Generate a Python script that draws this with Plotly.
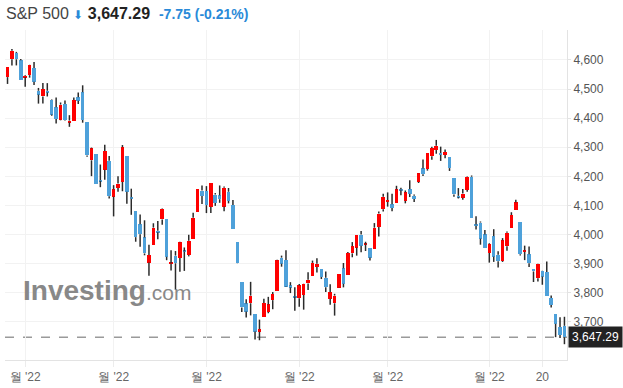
import plotly.graph_objects as go

dates = ["03-28","03-29","03-30","03-31",
"04-01","04-04","04-05","04-06","04-07","04-08","04-11","04-12","04-13","04-14","04-18","04-19","04-20","04-21","04-22","04-25","04-26","04-27","04-28","04-29",
"05-02","05-03","05-04","05-05","05-06","05-09","05-10","05-11","05-12","05-13","05-16","05-17","05-18","05-19","05-20","05-23","05-24","05-25","05-26","05-27","05-31",
"06-01","06-02","06-03","06-06","06-07","06-08","06-09","06-10","06-13","06-14","06-15","06-16","06-17","06-21","06-22","06-23","06-24","06-27","06-28","06-29","06-30",
"07-01","07-05","07-06","07-07","07-08","07-11","07-12","07-13","07-14","07-15","07-18","07-19","07-20","07-21","07-22","07-25","07-26","07-27","07-28","07-29",
"08-01","08-02","08-03","08-04","08-05","08-08","08-09","08-10","08-11","08-12","08-15","08-16","08-17","08-18","08-19","08-22","08-23","08-24","08-25","08-26","08-29","08-30","08-31",
"09-01","09-02","09-06","09-07","09-08","09-09","09-12","09-13","09-14","09-15","09-16","09-19","09-20","09-21","09-22","09-23","09-26","09-27"]

opens = [4541.09,4602.86,4624.20,4599.02,
4540.32,4547.97,4572.45,4494.17,4474.65,4494.15,4462.64,4437.59,4394.30,4449.12,4385.63,4390.63,4472.26,4489.17,4385.83,4255.34,4278.14,4186.52,4222.58,4253.75,
4130.61,4159.78,4181.18,4270.43,4128.17,4081.27,4035.18,3990.08,3903.95,3963.90,4013.02,4052.00,4051.98,3899.00,3927.76,3919.42,3942.94,3929.59,3984.60,4077.43,4151.09,
4149.78,4095.41,4137.57,4134.72,4096.47,4147.12,4101.65,3974.39,3838.15,3763.52,3764.05,3728.18,3665.90,3715.31,3733.89,3774.71,3805.35,3920.76,3913.00,3825.09,3785.99,
3781.00,3792.61,3831.98,3858.85,3888.26,3880.94,3851.95,3779.67,3763.99,3818.00,3883.79,3860.73,3935.32,3955.47,4000.16,3965.72,3953.22,3951.43,4026.13,4087.33,
4112.38,4104.21,4107.96,4154.85,4115.87,4155.93,4133.11,4181.02,4227.40,4225.02,4269.37,4290.46,4280.40,4273.13,4266.31,4195.08,4133.09,4126.55,4153.26,4198.74,4034.58,4041.25,4000.67,
3936.73,3994.66,3930.89,3909.43,3959.94,4022.94,4083.67,4042.69,3940.73,3932.41,3880.95,3849.91,3875.23,3871.40,3782.36,3727.14,3682.72,3686.44]

highs = [4575.65,4637.30,4627.77,4603.07,
4548.70,4583.50,4593.45,4503.94,4521.16,4520.41,4464.35,4471.00,4453.92,4460.46,4410.31,4471.03,4488.29,4512.94,4385.83,4299.02,4278.14,4240.71,4308.45,4269.68,
4169.81,4200.10,4307.66,4270.43,4157.69,4081.27,4068.82,4049.09,3964.80,4038.88,4046.46,4090.72,4051.98,3945.96,3943.42,3975.30,3955.68,3999.33,4075.14,4158.49,4168.34,
4166.54,4177.51,4142.67,4168.78,4164.86,4160.14,4119.10,3974.39,3838.15,3778.18,3837.56,3728.18,3707.71,3779.65,3785.99,3802.58,3913.65,3927.72,3945.86,3836.50,3818.99,
3829.82,3832.19,3870.91,3910.63,3918.50,3880.94,3873.41,3829.44,3796.41,3863.62,3902.44,3939.81,3974.13,3999.29,4012.44,3975.30,3953.22,4039.56,4078.95,4140.15,
4144.95,4140.47,4167.66,4161.29,4151.58,4186.62,4137.30,4211.03,4257.91,4280.47,4301.79,4325.28,4302.18,4292.53,4266.31,4195.08,4159.77,4156.56,4200.54,4203.04,4062.99,4044.98,4015.37,
3970.23,4018.43,3942.55,3987.89,4010.50,4076.81,4119.28,4042.69,3961.94,3959.14,3880.95,3900.45,3876.01,3907.07,3790.28,3727.14,3715.67,3717.53]

lows = [4517.69,4581.18,4581.32,4530.41,
4507.57,4539.21,4514.17,4450.04,4450.30,4474.60,4408.38,4381.34,4392.70,4390.77,4370.30,4390.63,4448.76,4384.47,4267.62,4200.82,4175.04,4162.90,4188.63,4124.28,
4062.51,4147.08,4148.91,4106.01,4067.91,3975.48,3958.17,3928.82,3858.87,3963.90,3983.99,4033.93,3911.91,3876.58,3810.32,3871.98,3875.13,3925.03,3984.60,4077.43,4104.88,
4073.85,4074.37,4098.67,4109.18,4080.19,4107.20,4017.17,3900.16,3734.30,3715.37,3722.30,3639.77,3636.87,3715.31,3729.69,3743.52,3805.35,3889.66,3820.14,3799.02,3738.67,
3752.10,3742.06,3809.37,3858.85,3869.34,3847.22,3802.36,3759.07,3721.56,3817.18,3818.63,3860.73,3922.03,3927.64,3938.85,3943.46,3910.74,3951.43,3992.97,4079.22,
4096.02,4079.81,4107.96,4135.42,4107.31,4128.97,4112.09,4177.26,4201.41,4219.78,4256.90,4277.77,4253.08,4261.98,4218.70,4129.86,4124.03,4119.97,4147.59,4057.66,4017.42,3965.21,3954.53,
3903.65,3906.21,3886.75,3906.03,3944.81,4022.94,4083.67,3928.13,3912.24,3888.28,3837.08,3838.50,3827.54,3789.49,3749.45,3647.47,3644.76,3623.29]

closes = [4575.52,4631.60,4602.45,4530.41,
4545.86,4582.64,4525.12,4481.15,4500.21,4488.28,4412.53,4397.45,4446.59,4392.59,4391.69,4462.21,4459.45,4393.66,4271.78,4296.12,4175.20,4183.96,4287.50,4131.93,
4155.38,4175.48,4300.17,4146.87,4123.34,3991.24,4001.05,3935.18,3930.08,4023.89,4008.01,4088.85,3923.68,3900.79,3901.36,3973.75,3941.48,3978.73,4057.84,4158.24,4132.15,
4101.23,4176.82,4108.54,4121.43,4160.68,4115.77,4017.82,3900.86,3749.63,3735.48,3789.99,3666.77,3674.84,3764.79,3759.89,3795.73,3911.74,3900.11,3821.55,3818.83,3785.38,
3825.33,3831.39,3845.08,3902.62,3899.38,3854.43,3818.80,3801.78,3790.38,3863.16,3830.85,3936.69,3959.90,3998.95,3961.63,3966.84,3921.05,4023.61,4072.43,4130.29,
4118.63,4091.19,4155.17,4151.94,4145.19,4140.06,4122.47,4210.24,4207.27,4280.15,4297.14,4305.20,4274.04,4283.74,4228.48,4137.99,4128.73,4140.77,4199.12,4057.66,4030.61,3986.16,3955.00,
3966.85,3924.26,3908.19,3979.87,4006.18,4067.36,4110.41,3932.69,3946.01,3901.35,3873.33,3899.89,3855.93,3789.93,3757.99,3693.23,3655.04,3647.29]

tick_index = [4, 24, 45, 66, 86, 109, 121]
tick_text = ["월 '22", "월 '22", "월 '22", "월 '22", "월 '22", "월 '22", "20"]
y_ticks = [3700, 3800, 3900, 4000, 4100, 4200, 4300, 4400, 4500, 4600]

last_price = 3647.29
change = -7.75
change_pct = -0.21
UP = "#ff0000"
DOWN = "#4ea1da"
WICK = "#2b2b2b"
FONT = "Liberation Sans, Arial"

idx = list(range(len(dates)))

# wicks: only the parts outside the body
wx, wy = [], []
for i, o, h, l, c in zip(idx, opens, highs, lows, closes):
    lo_b, hi_b = min(o, c), max(o, c)
    wx += [i, i, None, i, i, None]
    wy += [l, lo_b, None, hi_b, h, None]

fig = go.Figure()
fig.add_trace(go.Scatter(x=wx, y=wy, mode="lines", line=dict(color=WICK, width=1.5),
                         hoverinfo="skip", showlegend=False))

for up in (True, False):
    xs, bases, hs = [], [], []
    for i, o, c in zip(idx, opens, closes):
        if (c >= o) == up:
            xs.append(i)
            bases.append(min(o, c))
            hs.append(max(abs(c - o), 4))
    fig.add_trace(go.Bar(x=xs, y=hs, base=bases, width=0.8,
                         marker=dict(color=UP if up else DOWN, line=dict(width=0)),
                         showlegend=False, hoverinfo="skip"))

fig.add_shape(type="line", xref="paper", x0=0, x1=1, yref="y", y0=last_price, y1=last_price,
              line=dict(color="#9a9a9a", width=1.5, dash="dash"), layer="below")

fig.add_annotation(xref="paper", x=1, xanchor="left", xshift=1, yref="y", y=last_price,
                   text=f"{last_price:,.2f}", showarrow=False, bgcolor="#222222",
                   font=dict(color="white", size=12, family=FONT),
                   borderpad=3)

# watermark
fig.add_annotation(xref="paper", yref="paper", x=0.028, y=0.21, xanchor="left", yanchor="middle",
                   text="<b>Investing</b><span style='font-size:21px'>.com</span>", showarrow=False,
                   font=dict(color="#888888", size=28, family=FONT))

# title
fig.add_annotation(xref="paper", yref="paper", x=0, y=(360 - 14) / 330, xanchor="left", yanchor="middle",
                   xshift=-1,
                   text=("<span style='color:#444'>S&amp;P 500</span> "
                         "<span style='color:#2a8ad8;font-size:12px'>⬇</span> "
                         f"<b style='color:#222'>{last_price:,.2f}</b>  "
                         f"<b style='color:#2a8ad8;font-size:14px'>{change:.2f} ({change_pct:.2f}%)</b>"),
                   showarrow=False, font=dict(size=16, family=FONT))

fig.update_layout(
    width=623, height=388,
    margin=dict(l=5, r=56, t=30, b=28),
    paper_bgcolor="white", plot_bgcolor="white",
    barmode="overlay", bargap=0,
    xaxis=dict(range=[-0.57, 126.58], tickmode="array", tickvals=tick_index, ticktext=tick_text,
               showgrid=True, gridcolor="#f2f2f2", gridwidth=1,
               showline=True, linecolor="#e3e3e3", linewidth=1,
               ticks="outside", ticklen=6, tickcolor="#ececec",
               tickfont=dict(size=12, color="#666", family=FONT),
               zeroline=False, fixedrange=True),
    yaxis=dict(range=[3569, 4703], side="right", tickmode="array", tickvals=y_ticks,
               tickformat=",", showgrid=True, gridcolor="#f2f2f2", gridwidth=1,
               showline=True, linecolor="#e3e3e3", linewidth=1,
               ticks="outside", ticklen=3, tickcolor="#e3e3e3",
               tickfont=dict(size=12, color="#555", family=FONT),
               zeroline=False, fixedrange=True),
)

fig.write_html("out.html", config={"displayModeBar": False},
               post_script="document.body.style.margin='0';document.body.style.padding='0';")
